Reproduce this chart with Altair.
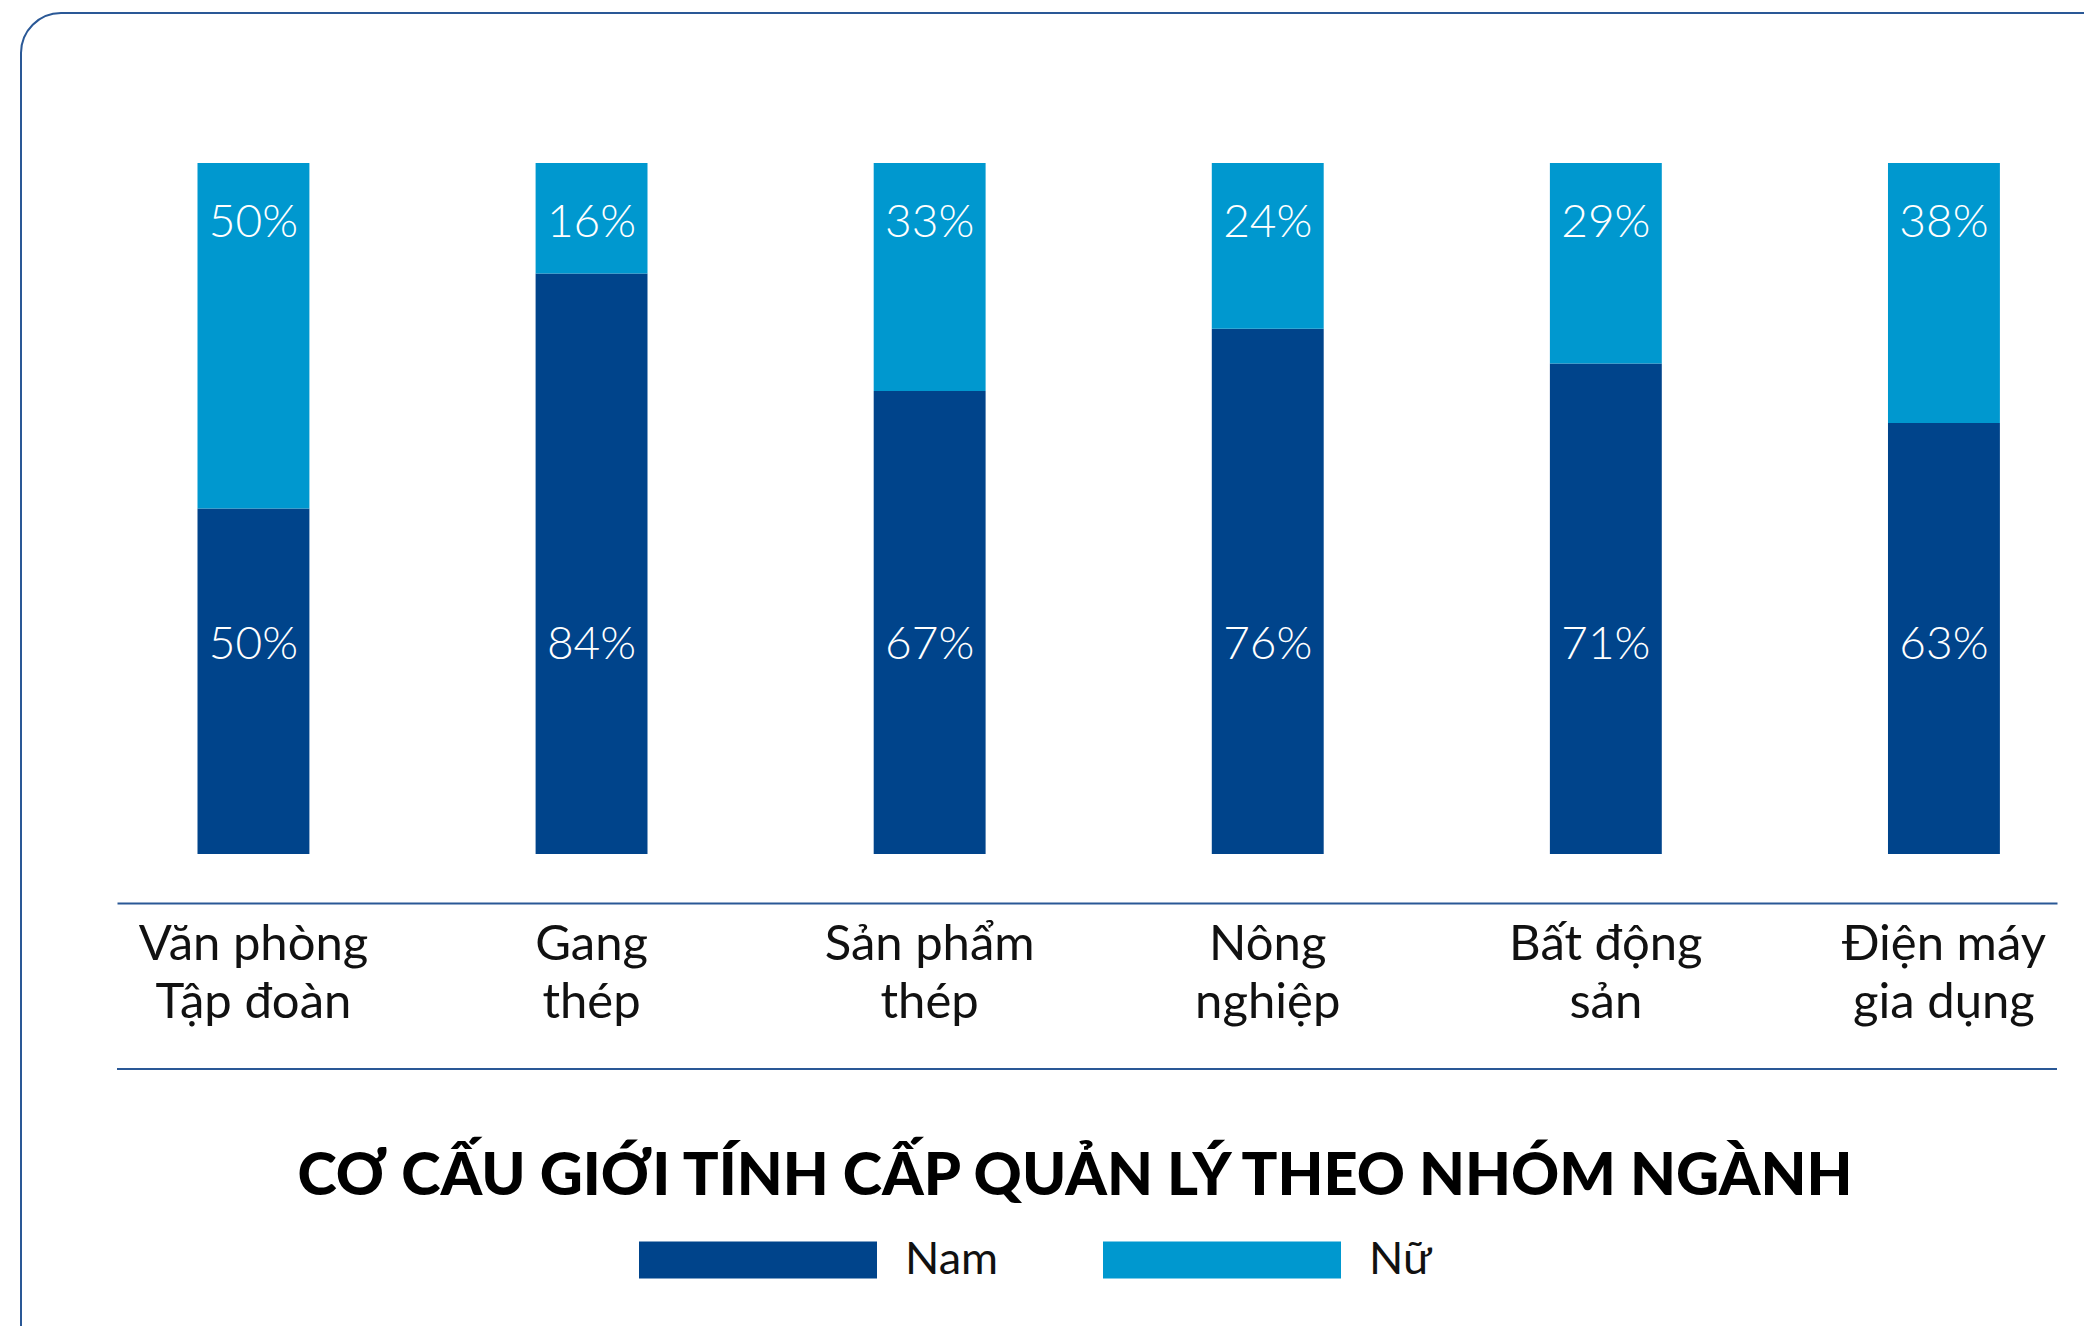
import altair as alt
import pandas as pd

# ---- data ----
categories = ["Văn phòng\nTập đoàn", "Gang\nthép", "Sản phẩm\nthép",
              "Nông\nnghiệp", "Bất động\nsản", "Điện máy\ngia dụng"]
nam = [50, 84, 67, 76, 71, 63]
nu = [50, 16, 33, 24, 29, 38]
series = ["Nam", "Nữ"]
colors = ["#00448B", "#0098CF"]
title_text = "CƠ CẤU GIỚI TÍNH CẤP QUẢN LÝ THEO NHÓM NGÀNH"

rows = []
for c, a, b in zip(categories, nam, nu):
    rows.append({"nganh": c, "gioi": series[0], "pct": a, "thu_tu": 0})
    rows.append({"nganh": c, "gioi": series[1], "pct": b, "thu_tu": 1})
df = pd.DataFrame(rows)

W, H = 1940, 691
FONT = "Lato"
LINE = "#2A5896"

x_enc = alt.X(
    "nganh:N", sort=categories,
    scale=alt.Scale(paddingInner=0.669, paddingOuter=0.2035, align=0.585),
    axis=alt.Axis(title=None, orient="bottom", offset=49, domainColor=LINE,
                  domainWidth=2, ticks=False, tickSize=0, labelPadding=56,
                  labelBaseline="alphabetic", labelLineHeight=58,
                  labelFontSize=49, labelFont=FONT, labelColor="#111111",
                  labelAngle=0, labelLimit=0, labelOverlap=False, labelBound=False,
                  labelExpr="split(datum.label, '\\n')", grid=False),
)

bars = alt.Chart(df).mark_bar().encode(
    x=x_enc,
    y=alt.Y("pct:Q", stack="normalize", scale=alt.Scale(domain=[0, 1]), axis=None),
    color=alt.Color(
        "gioi:N",
        scale=alt.Scale(domain=series, range=colors),
        legend=alt.Legend(
            title=None, orient="none", legendX=522, legendY=978,
            direction="horizontal",
            symbolType="M-1,-0.1555L1,-0.1555L1,0.1555L-1,0.1555Z",
            symbolSize=56644, symbolStrokeWidth=0, symbolOpacity=1,
            labelFontSize=45, labelFont=FONT, labelColor="#111111",
            labelOffset=28, columnPadding=104, padding=0,
        ),
    ),
    order=alt.Order("thu_tu:Q", sort="ascending"),
)

lbl_nu = alt.Chart(df).transform_filter(
    alt.datum.gioi == series[1]
).transform_calculate(lbl="datum.pct + '%'").mark_text(
    dy=60, baseline="middle", align="center", fontSize=46, font=FONT,
    fontWeight=300, color="white"
).encode(x=alt.X("nganh:N", sort=categories), y=alt.datum(1), text="lbl:N")

lbl_nam = alt.Chart(df).transform_filter(
    alt.datum.gioi == series[0]
).transform_calculate(lbl="datum.pct + '%'").mark_text(
    dy=-209, baseline="middle", align="center", fontSize=46, font=FONT,
    fontWeight=300, color="white"
).encode(x=alt.X("nganh:N", sort=categories), y=alt.datum(0), text="lbl:N")

one = pd.DataFrame({"k": [0]})
frame = alt.Chart(one).mark_rect(
    filled=False, stroke=LINE, strokeWidth=2, cornerRadius=40
).encode(x=alt.value(-96), x2=alt.value(2060), y=alt.value(-150), y2=alt.value(1260))

bottom_rule = alt.Chart(one).mark_rule(color=LINE, strokeWidth=2).encode(
    x=alt.value(0), x2=alt.value(W), y=alt.value(906)
)

chart = alt.layer(frame, bars, lbl_nu, lbl_nam, bottom_rule).properties(
    width=W, height=H,
    background="white",
    title=alt.TitleParams(
        text=title_text, orient="top", anchor="middle", frame="group",
        font=FONT, fontSize=59.5, fontWeight=900, color="#000000",
        baseline="alphabetic", offset=0, dy=1242, dx=-12,
    ),
    autosize=alt.AutoSizeParams(type="none"),
    padding={"left": 109, "top": 155, "right": 27, "bottom": 472},
).configure_view(stroke="transparent", strokeWidth=0)

chart.save("out.html", embed_options={"renderer": "svg", "actions": False})
